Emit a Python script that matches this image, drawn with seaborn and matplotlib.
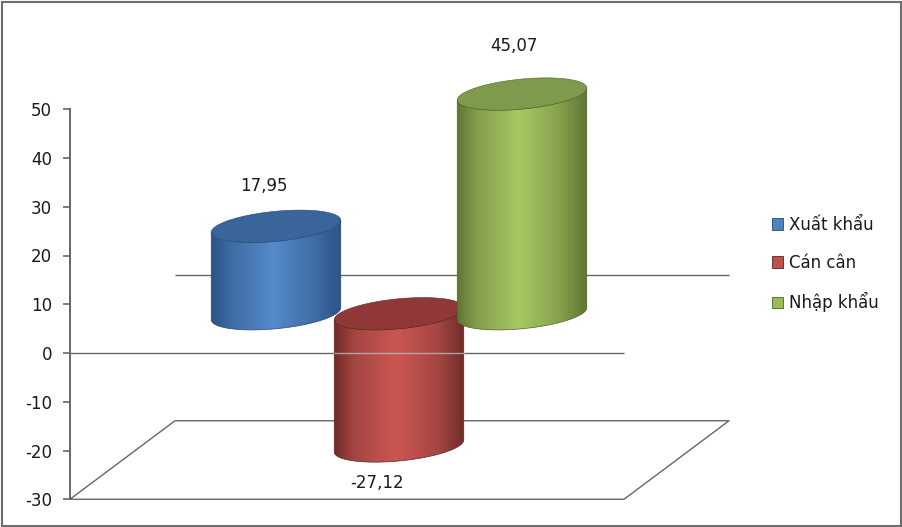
import numpy as np
import pandas as pd
import matplotlib
matplotlib.use("Agg")
import matplotlib.pyplot as plt
from matplotlib.colors import LinearSegmentedColormap
from matplotlib.patches import Polygon, Patch, Rectangle
import seaborn as sns

categories = ["Xuất khẩu", "Cán cân", "Nhập khẩu"]
values = [17.95, -27.12, 45.07]
value_labels = ["17,95", "-27,12", "45,07"]
yticks = [-30, -20, -10, 0, 10, 20, 30, 40, 50]

face_colors = ["#4F81BD", "#C0504D", "#9BBB59"]
bright = ["#568ACC", "#CB5651", "#A7CA62"]
mid = ["#3F6CA3", "#A54643", "#84A04C"]
dark = ["#2C5385", "#702C2A", "#5F7635"]
caps = ["#3B659A", "#8F3837", "#7E9A4C"]
edges = ["#234A78", "#5E2220", "#4F6229"]

sns.set_theme(style="white")
plt.rcParams["font.family"] = ["DejaVu Sans"]
plt.rcParams["axes.unicode_minus"] = False

W, H = 902, 527
PX_X = 123.0      # pixels per category
PX_Y = 4.875      # pixels per value unit
X0_PX = 276.0     # pixel of first category
Y0_PX = 353.0     # pixel of value 0
DEPTH_X, DEPTH_Y = 105 / PX_X, 78.5 / PX_Y

fig = plt.figure(figsize=(W / 100, H / 100), dpi=100, facecolor="white")
ax = fig.add_axes([0, 0, 1, 1])
df = pd.DataFrame({"cat": categories, "val": values})
sns.barplot(data=df, x="cat", y="val", hue="cat", palette=face_colors, dodge=False,
            width=129.5 / PX_X, legend=False, ax=ax)
bars = sorted([p for p in ax.patches], key=lambda p: p.get_x())

xl = (-X0_PX / PX_X, (W - X0_PX) / PX_X)
yl = ((Y0_PX - H) / PX_Y, Y0_PX / PX_Y)
ymin, ymax = yticks[0], yticks[-1]
x_front_l = (70 - X0_PX) / PX_X
x_front_r = (624 - X0_PX) / PX_X

# walls and floor
line = dict(color="#666666", lw=1.0, zorder=1, solid_capstyle="butt")
ax.plot([x_front_l, x_front_r], [0, 0], **line)
ax.plot([x_front_l + DEPTH_X, x_front_r + DEPTH_X], [DEPTH_Y, DEPTH_Y], **line)
floor_x = [x_front_l, x_front_l + DEPTH_X, x_front_r + DEPTH_X, x_front_r, x_front_l]
floor_y = [ymin, ymin + DEPTH_Y, ymin + DEPTH_Y, ymin, ymin]
ax.plot(floor_x, floor_y, **line)

# cylinders built from the bars seaborn drew
base = DEPTH_Y / 2
b = 15 / PX_Y
tilt = 6 / PX_Y
t_low = np.linspace(np.pi, 2 * np.pi, 60)
t_all = np.linspace(0, 2 * np.pi, 120)
label_dx = [-12, -22, -8]
label_dy = [40.5, -37.5, 48.5]
for i, bar in enumerate(bars):
    bar.set_visible(False)
    x0, w, h = bar.get_x(), bar.get_width(), bar.get_height()
    cx, a = x0 + w / 2, w / 2
    top, bot = max(base, base + h), min(base, base + h)
    z = 3 + i
    xs = cx + a * np.cos(t_low)
    low_y = bot + b * np.sin(t_low) + tilt * np.cos(t_low)
    up_y = top + b * np.sin(t_low) + tilt * np.cos(t_low)
    body_xy = np.column_stack([np.r_[xs, xs[::-1]], np.r_[low_y, up_y[::-1]]])
    body = Polygon(body_xy, closed=True, fc="none", ec=edges[i], lw=0.5, zorder=z + 0.1)
    ax.add_patch(body)
    cmap = LinearSegmentedColormap.from_list(
        "c", [(0, dark[i]), (0.16, mid[i]), (0.48, bright[i]), (0.8, mid[i]), (1, dark[i])])
    grad = np.linspace(0, 1, 256).reshape(1, -1)
    im = ax.imshow(grad, cmap=cmap, aspect="auto", zorder=z, interpolation="bilinear",
                   extent=(cx - a, cx + a, bot - 2 * b, top + 2 * b))
    im.set_clip_path(body)
    cap_xy = np.column_stack([cx + a * np.cos(t_all),
                              top + b * np.sin(t_all) + tilt * np.cos(t_all)])
    ax.add_patch(Polygon(cap_xy, closed=True, fc=caps[i], ec=edges[i], lw=0.4, zorder=z + 0.2))
    # value label
    ref = top if h > 0 else bot
    ax.text(cx + label_dx[i] / PX_X, ref + label_dy[i] / PX_Y, value_labels[i],
            ha="center", va="center", fontsize=12, color="#1a1a1a", zorder=10)
    # zero plane seen through the red cylinder
    if h < 0:
        ax.plot([cx - a, cx + a], [0, 0], color="#bbbbbb", lw=1.0, alpha=0.8, zorder=z + 0.3)

ax.set_xlim(*xl)
ax.set_ylim(*yl)
ax.set_xticks([])
ax.set_yticks(yticks)
ax.set_xlabel("")
ax.set_ylabel("")
ax.patch.set_alpha(0)
for s in ["top", "right", "bottom"]:
    ax.spines[s].set_visible(False)
sp = ax.spines["left"]
sp.set_position(("data", x_front_l))
sp.set_bounds(ymin, ymax)
sp.set_color("#666666")
sp.set_linewidth(1.4)
ax.tick_params(axis="y", left=True, direction="out", length=5, width=1.2, color="#666666",
               labelsize=12, labelcolor="#1a1a1a", pad=7.8)

handles = [Patch(fc=c, ec=e, lw=0.6, label=l) for c, e, l in zip(face_colors, edges, categories)]
ax.legend(handles=handles, loc="center left", bbox_to_anchor=(772 / W, 1 - 264 / H),
          bbox_transform=fig.transFigure, frameon=False, fontsize=12, labelspacing=1.2,
          handlelength=0.66, handleheight=0.66, handletextpad=0.38, labelcolor="#1a1a1a",
          borderpad=0, borderaxespad=0)

fig.add_artist(Rectangle((1.5 / W, 1.5 / H), (W - 3) / W, (H - 3) / H, transform=fig.transFigure,
                         fill=False, ec="#6e6e6e", lw=1.5))
fig.savefig("out.png", dpi=100, facecolor="white")
